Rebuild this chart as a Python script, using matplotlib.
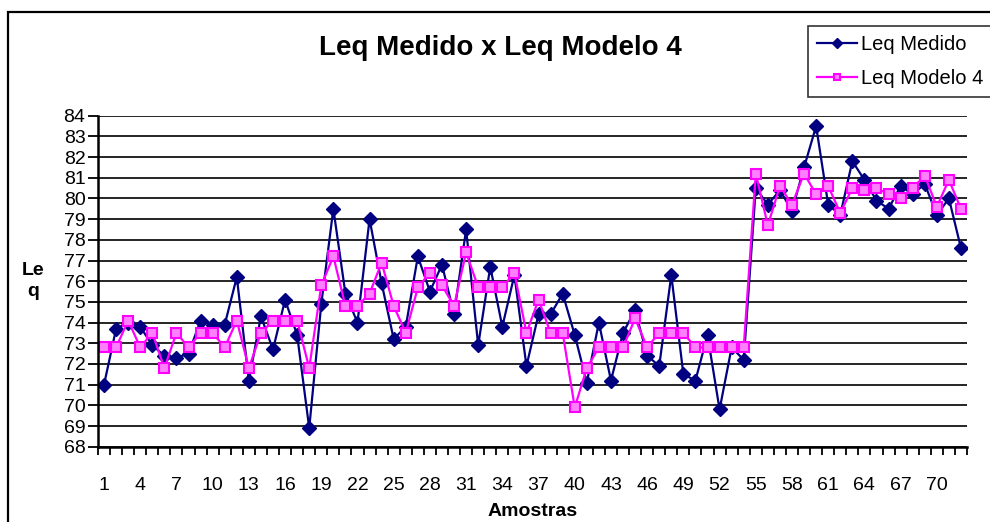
import matplotlib
matplotlib.use('Agg')
import matplotlib.pyplot as plt
from matplotlib.patches import Rectangle

plt.rcParams['font.family'] = ['Liberation Sans', 'DejaVu Sans']

amostras = list(range(1, 73))

leq_medido = [71.0, 73.7, 74.0, 73.8, 72.9, 72.4, 72.3, 72.5, 74.1, 73.9,
              73.9, 76.2, 71.2, 74.3, 72.7, 75.1, 73.4, 68.9, 74.9, 79.5,
              75.4, 74.0, 79.0, 75.9, 73.2, 73.8, 77.2, 75.5, 76.8, 74.4,
              78.5, 72.9, 76.7, 73.8, 76.3, 71.9, 74.4, 74.4, 75.4, 73.4,
              71.1, 74.0, 71.2, 73.5, 74.6, 72.4, 71.9, 76.3, 71.5, 71.2,
              73.4, 69.8, 72.8, 72.2, 80.5, 79.7, 80.4, 79.4, 81.5, 83.5,
              79.7, 79.2, 81.8, 80.9, 79.9, 79.5, 80.6, 80.2, 80.7, 79.2,
              80.0, 77.6]

leq_modelo4 = [72.8, 72.8, 74.1, 72.8, 73.5, 71.8, 73.5, 72.8, 73.5, 73.5,
               72.8, 74.1, 71.8, 73.5, 74.1, 74.1, 74.1, 71.8, 75.8, 77.2,
               74.8, 74.8, 75.4, 76.9, 74.8, 73.5, 75.7, 76.4, 75.8, 74.8,
               77.4, 75.7, 75.7, 75.7, 76.4, 73.5, 75.1, 73.5, 73.5, 69.9,
               71.8, 72.8, 72.8, 72.8, 74.2, 72.8, 73.5, 73.5, 73.5, 72.8,
               72.8, 72.8, 72.8, 72.8, 81.2, 78.7, 80.6, 79.7, 81.2, 80.2,
               80.6, 79.3, 80.5, 80.4, 80.5, 80.2, 80.0, 80.5, 81.1, 79.6,
               80.9, 79.5]

x_labels = amostras[::3]
y_ticks = list(range(68, 85))

fig = plt.figure(figsize=(9.9, 5.22), dpi=100)
ax = fig.add_axes([98/990, 1 - 446.7/522, (967-98)/990, (446.7-115.7)/522])

# outer chart border (right and bottom run off the image)
fig.patches.append(Rectangle((8/990, -0.1), 1.2, 1 - 12/522 + 0.1,
                             transform=fig.transFigure, fill=False,
                             edgecolor='black', linewidth=1.6))

ax.plot(amostras, leq_medido, color='#000080', linewidth=1.6,
        marker='D', markersize=7, markerfacecolor='#000080',
        markeredgecolor='#000080', label='Leq Medido', zorder=3)
ax.plot(amostras, leq_modelo4, color='#FF00FF', linewidth=1.6,
        marker='s', markersize=6.5, markerfacecolor='#FF80FF',
        markeredgecolor='#FF00FF', markeredgewidth=1.5,
        label='Leq Modelo 4', zorder=4)

ax.set_xlim(0.5, 72.5)
ax.set_ylim(68, 84)

ax.set_xticks(x_labels)
ax.set_xticklabels([str(v) for v in x_labels], fontsize=14)
ax.set_xticks([v + 0.5 for v in range(0, 73)], minor=True)
ax.tick_params(axis='x', which='major', length=0, pad=22)
ax.tick_params(axis='x', which='minor', length=5.5, width=1.3, direction='out')

ax.set_yticks(y_ticks)
ax.set_yticklabels([str(v) for v in y_ticks], fontsize=14)
ax.tick_params(axis='y', length=7, width=1.3, direction='out', pad=2)

ax.grid(axis='y', color='black', linewidth=1.2)
ax.set_axisbelow(True)

for s in ['top', 'right']:
    ax.spines[s].set_visible(False)
for s in ['left', 'bottom']:
    ax.spines[s].set_linewidth(1.8)
    ax.spines[s].set_zorder(5)

ax.set_xlabel('Amostras', fontsize=14, fontweight='bold', labelpad=6)
ax.set_ylabel('Le\nq', fontsize=14, fontweight='bold', rotation=0,
              labelpad=22, va='center', ha='center', linespacing=1.3)

fig.text(500/990, 1 - 48/522, 'Leq Medido x Leq Modelo 4', fontsize=20,
         fontweight='bold', ha='center', va='center')

leg = fig.legend(loc='upper left', bbox_to_anchor=(808/990, 1 - 26/522),
                 fontsize=14.5, frameon=True, fancybox=False, shadow=False,
                 handlelength=2.0, handletextpad=0.2, labelspacing=0.75,
                 borderpad=0.45, borderaxespad=0, markerscale=0.7)
leg.get_frame().set_edgecolor('black')
leg.get_frame().set_linewidth(1.2)

fig.savefig('out.png', dpi=100)
